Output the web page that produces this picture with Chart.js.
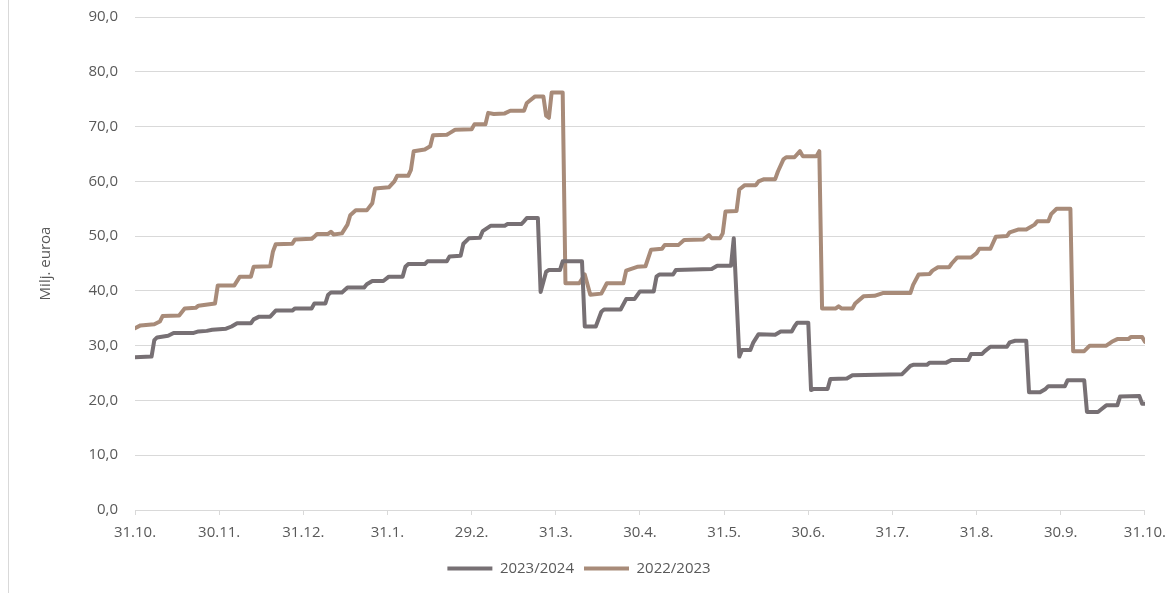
<!DOCTYPE html>
<html>
<head>
<meta charset="utf-8">
<script src="https://cdn.jsdelivr.net/npm/chart.js@4"></script>
<style>
  html, body { margin: 0; padding: 0; background: #fff; }
  #wrap { position: relative; width: 1175px; height: 593px; overflow: hidden; }
  #edge { position: absolute; left: 8px; top: 0; bottom: 0; border-left: 1px solid #d9d9d9; }
  #chart { position: absolute; left: 0; top: -9px; }
</style>
</head>
<body>
<div id="wrap">
  <div id="edge"></div>
  <canvas id="chart" width="1175" height="602"></canvas>
</div>
<script>
// day index from 31.10. (0) to 31.10. next year (366)
const tickLabels = ["31.10.", "30.11.", "31.12.", "31.1.", "29.2.", "31.3.", "30.4.",
  "31.5.", "30.6.", "31.7.", "31.8.", "30.9.", "31.10."];

const days2324 = [0, 6, 7, 8, 12, 14, 21, 23, 26, 28, 33, 35, 37, 42, 43, 45, 49, 51, 57, 58,
  64, 65, 69, 70, 71, 75, 77, 83, 84, 86, 90, 92, 97, 98, 99, 105, 106, 113, 114, 118,
  119, 121, 125, 126, 129, 134, 135, 140, 141, 142, 146, 147, 149, 150, 154, 155, 162, 163, 167, 169,
  170, 176, 178, 181, 183, 188, 189, 190, 195, 196, 209, 211, 216, 217, 219, 220, 223, 224, 226, 232,
  234, 238, 239, 240, 244, 245, 246, 251, 252, 258, 260, 278, 281, 282, 287, 288, 294, 296, 302, 303,
  307, 308, 310, 316, 317, 319, 323, 324, 328, 330, 331, 337, 338, 344, 345, 349, 350, 352, 356, 357,
  364, 365, 366];
const vals2324 = [27.9, 28.0, 31.0, 31.5, 31.8, 32.3, 32.3, 32.6, 32.7, 32.9, 33.1, 33.5, 34.1, 34.1, 34.8, 35.3, 35.3, 36.4, 36.4, 36.8,
  36.8, 37.7, 37.7, 39.3, 39.7, 39.7, 40.6, 40.6, 41.2, 41.8, 41.8, 42.6, 42.6, 44.4, 44.9, 44.9, 45.4, 45.4, 46.3, 46.4,
  48.6, 49.6, 49.7, 50.9, 51.9, 51.9, 52.2, 52.2, 52.7, 53.3, 53.3, 39.8, 43.5, 43.8, 43.8, 45.4, 45.4, 33.5, 33.5, 36.2,
  36.6, 36.6, 38.5, 38.5, 39.9, 39.9, 42.6, 43.0, 43.0, 43.8, 44.0, 44.6, 44.6, 49.6, 28.0, 29.2, 29.2, 30.5, 32.1, 32.0,
  32.6, 32.6, 33.5, 34.2, 34.2, 21.9, 22.1, 22.1, 23.9, 24.0, 24.6, 24.8, 26.3, 26.5, 26.5, 26.9, 26.9, 27.4, 27.4, 28.5,
  28.5, 29.0, 29.8, 29.8, 30.6, 30.9, 30.9, 21.5, 21.5, 22.1, 22.6, 22.6, 23.7, 23.7, 17.9, 17.9, 18.3, 19.1, 19.1, 20.7,
  20.8, 19.4, 19.4];

const days2223 = [0, 2, 7, 9, 10, 16, 18, 22, 23, 29, 30, 36, 38, 42, 43, 49, 50, 51, 57, 58,
  64, 65, 66, 70, 71, 72, 75, 77, 78, 80, 84, 86, 87, 92, 94, 95, 99, 100, 101, 105,
  107, 108, 113, 114, 116, 122, 123, 127, 128, 130, 134, 136, 141, 142, 145, 148, 149, 150, 151, 155,
  156, 161, 163, 165, 169, 171, 177, 178, 182, 185, 187, 191, 192, 197, 199, 206, 208, 209, 212, 213,
  214, 218, 219, 221, 225, 226, 228, 232, 233, 235, 236, 239, 241, 242, 247, 248, 249, 254, 255, 256,
  260, 261, 264, 268, 271, 281, 282, 284, 288, 289, 291, 295, 296, 298, 303, 305, 306, 310, 312, 316,
  317, 320, 323, 326, 327, 331, 332, 334, 339, 340, 344, 346, 352, 354, 356, 360, 361, 365, 366];
const vals2223 = [33.2, 33.7, 33.9, 34.4, 35.4, 35.5, 36.8, 36.9, 37.3, 37.7, 41.0, 41.0, 42.6, 42.6, 44.4, 44.5, 47.2, 48.5, 48.6, 49.4,
  49.5, 49.9, 50.4, 50.4, 50.8, 50.3, 50.5, 52.1, 53.8, 54.7, 54.7, 56.0, 58.7, 58.9, 60.0, 61.0, 61.0, 62.1, 65.5, 65.8,
  66.4, 68.4, 68.5, 68.8, 69.4, 69.5, 70.4, 70.4, 72.5, 72.3, 72.4, 72.9, 72.9, 74.3, 75.5, 75.5, 72.0, 71.6, 76.2, 76.2,
  41.4, 41.4, 43.0, 39.3, 39.5, 41.4, 41.4, 43.7, 44.4, 44.5, 47.5, 47.7, 48.4, 48.4, 49.3, 49.4, 50.2, 49.6, 49.6, 50.5,
  54.5, 54.6, 58.5, 59.3, 59.3, 60.0, 60.4, 60.4, 61.8, 64.0, 64.4, 64.4, 65.5, 64.6, 64.6, 65.5, 36.8, 36.8, 37.2, 36.8,
  36.8, 37.7, 39.0, 39.1, 39.6, 39.6, 41.1, 43.0, 43.1, 43.7, 44.3, 44.3, 45.0, 46.1, 46.1, 46.9, 47.7, 47.7, 49.9, 50.0,
  50.7, 51.2, 51.2, 52.1, 52.7, 52.7, 54.0, 55.0, 55.0, 29.0, 29.0, 30.0, 30.0, 30.7, 31.2, 31.2, 31.6, 31.6, 30.7];

const toPoints = (xs, ys) => xs.map((x, i) => ({ x: x, y: ys[i] }));
const tickStep = 366 / 12;
const fontFamily = "'Open Sans', 'Liberation Sans', sans-serif";

new Chart(document.getElementById("chart"), {
  type: "line",
  data: {
    datasets: [
      {
        label: "2023/2024",
        data: toPoints(days2324, vals2324),
        borderColor: "#777074",
        backgroundColor: "#777074",
        borderWidth: 4,
        pointRadius: 0,
        tension: 0,
        borderJoinStyle: "round",
        borderCapStyle: "round"
      },
      {
        label: "2022/2023",
        data: toPoints(days2223, vals2223),
        borderColor: "#a88b79",
        backgroundColor: "#a88b79",
        borderWidth: 4,
        pointRadius: 0,
        tension: 0,
        borderJoinStyle: "round",
        borderCapStyle: "round"
      }
    ]
  },
  options: {
    responsive: false,
    animation: false,
    layout: { padding: { left: 10, right: 27, top: 0, bottom: 7 } },
    scales: {
      x: {
        type: "linear",
        min: 0,
        max: 366,
        afterBuildTicks: scale => {
          scale.ticks = tickLabels.map((_, i) => ({ value: i * tickStep }));
        },
        ticks: {
          autoSkip: false,
          maxRotation: 0,
          padding: 9,
          color: "#595959",
          font: { family: fontFamily, size: 15 },
          callback: (v, i) => tickLabels[i]
        },
        grid: { drawOnChartArea: false, drawTicks: true, tickLength: 5, color: "#d9d9d9" },
        border: { color: "#d9d9d9", width: 1 }
      },
      y: {
        min: 0,
        max: 90,
        afterFit: scale => { scale.width = 125; },
        ticks: {
          stepSize: 10,
          padding: 17,
          color: "#595959",
          font: { family: fontFamily, size: 15 },
          callback: v => v.toFixed(1).replace(".", ",")
        },
        grid: { color: "#d9d9d9", drawTicks: false, lineWidth: 1 },
        border: { display: false },
        title: {
          display: true,
          text: "Milj. euroa",
          color: "#595959",
          font: { family: fontFamily, size: 15 },
          padding: { top: 27, bottom: 0 }
        }
      }
    },
    plugins: {
      legend: {
        position: "bottom",
        labels: {
          usePointStyle: true,
          pointStyle: "line",
          pointStyleWidth: 45,
          padding: 10,
          color: "#595959",
          font: { family: fontFamily, size: 15 }
        }
      },
      tooltip: { enabled: false }
    }
  }
});
</script>
</body>
</html>
